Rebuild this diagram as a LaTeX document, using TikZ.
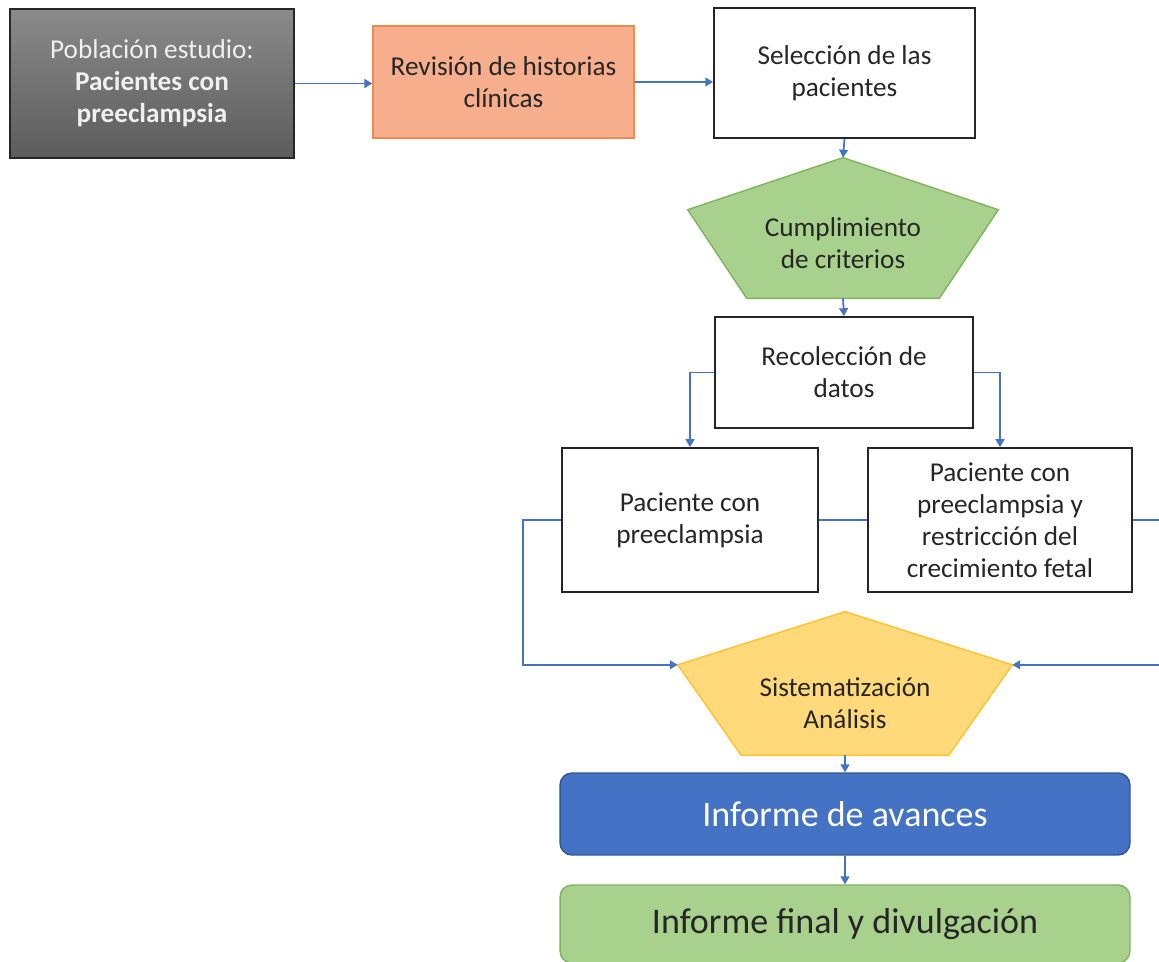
\documentclass[tikz,border=0pt]{standalone}
\usepackage{fontspec}
\setmainfont{Carlito}
\usetikzlibrary{calc}
\usetikzlibrary{arrows.meta}

\definecolor{flecha}{HTML}{4472C4}
\definecolor{grisA}{HTML}{8A8A8A}
\definecolor{grisB}{HTML}{5C5C5C}
\definecolor{naranja}{HTML}{F6AE8C}
\definecolor{naranjaB}{HTML}{EE8A4E}
\definecolor{verde}{HTML}{A9D18E}
\definecolor{verdeB}{HTML}{7FB45C}
\definecolor{amarillo}{HTML}{FFD97A}
\definecolor{amarilloB}{HTML}{FFC22E}
\definecolor{azul}{HTML}{4472C4}
\definecolor{azulB}{HTML}{2F5597}

\begin{document}
\begin{tikzpicture}[x=0.02cm,y=-0.02cm,
  caja/.style={draw=black!85,line width=1pt,align=center,inner sep=2pt,
    font=\fontsize{15.5}{18.2}\selectfont,text=black!85},
  marco/.style={minimum width=#1,inner sep=0pt},
  texto/.style={align=center,font=\fontsize{15.5}{18.2}\selectfont,text=black!85},
  redondo/.style={rounded corners=6.8pt,line width=0.8pt,minimum width=11.4cm,
    font=\fontsize{20.5}{24}\selectfont},
  conn/.style={draw=flecha,line width=1pt,-{Triangle[length=4.5pt,width=5pt]}},
  linea/.style={draw=flecha,line width=1pt}]

\useasboundingbox (0,0) rectangle (1159,962);

\node[caja,top color=grisA,bottom color=grisB,text=white!94!black,
  minimum width=5.68cm,minimum height=2.98cm] (pob) at (152,83.5)
  {Población estudio:\\\textbf{Pacientes con}\\\textbf{preeclampsia}};
\node[caja,fill=naranja,draw=naranjaB,line width=0.8pt,
  minimum width=5.22cm,minimum height=2.24cm] (rev) at (503.5,82)
  {Revisión de historias\\clínicas};
\node[caja,minimum width=5.22cm,minimum height=2.6cm] (sel) at (844.5,73)
  {Selección de las\\pacientes};

% pentagonos
\node[marco=6.2cm,minimum height=2.8cm] (crit) at (843,228) {};
\node[marco=6.68cm,minimum height=2.86cm] (sist) at (845,683.5) {};
\foreach \n/\c/\d in {crit/verde/verdeB, sist/amarillo/amarilloB}
{
  \coordinate (\n-l) at ($(\n.north west)!0.37!(\n.south west)$);
  \coordinate (\n-r) at ($(\n.north east)!0.37!(\n.south east)$);
  \draw[fill=\c,draw=\d,line width=0.8pt] (\n.north) -- (\n-r)
    -- ($(\n.south west)!0.81!(\n.south east)$)
    -- ($(\n.south west)!0.19!(\n.south east)$) -- (\n-l) -- cycle;
}
\node[texto] at ($(crit.center)+(0,15)$) {Cumplimiento\\de criterios};
\node[texto] at ($(sist.center)+(0,20)$) {Sistematización\\Análisis};

\node[caja,minimum width=5.16cm,minimum height=2.22cm] (rec) at (844,372.5)
  {Recolección de\\datos};
\node[caja,minimum width=5.12cm,minimum height=2.88cm] (pac1) at (690,520)
  {Paciente con\\preeclampsia};
\node[caja,minimum width=5.28cm,minimum height=2.88cm] (pac2) at (1000,520)
  {Paciente con\\preeclampsia y\\restricción del\\crecimiento fetal};

\node[redondo,fill=azul,draw=azulB,text=white,minimum height=1.64cm] (avan) at (845,814)
  {Informe de avances};
\node[redondo,fill=verde,draw=verdeB,text=black!85,minimum height=1.56cm] (final) at (845,924)
  {Informe final y divulgación};

\draw[conn] (pob.east) -- (pob.east -| rev.west);
\draw[conn] (rev.east) -- (rev.east -| sel.west);
\draw[conn] (sel.south) -- (crit.north);
\draw[conn] (crit.south) -- (rec.north);
\draw[conn] (rec.west) -| (pac1.north);
\draw[conn] (rec.east) -| (pac2.north);
\draw[linea] (pac1.east) -- (pac2.west);
\draw[conn] (pac1.west) -- ++(-38,0) |- (sist-l);
\draw[conn] (pac2.east) -- ++(45,0) |- (sist-r);
\draw[conn] (sist.south) -- (avan.north);
\draw[conn] (avan.south) -- (final.north);

\end{tikzpicture}
\end{document}
